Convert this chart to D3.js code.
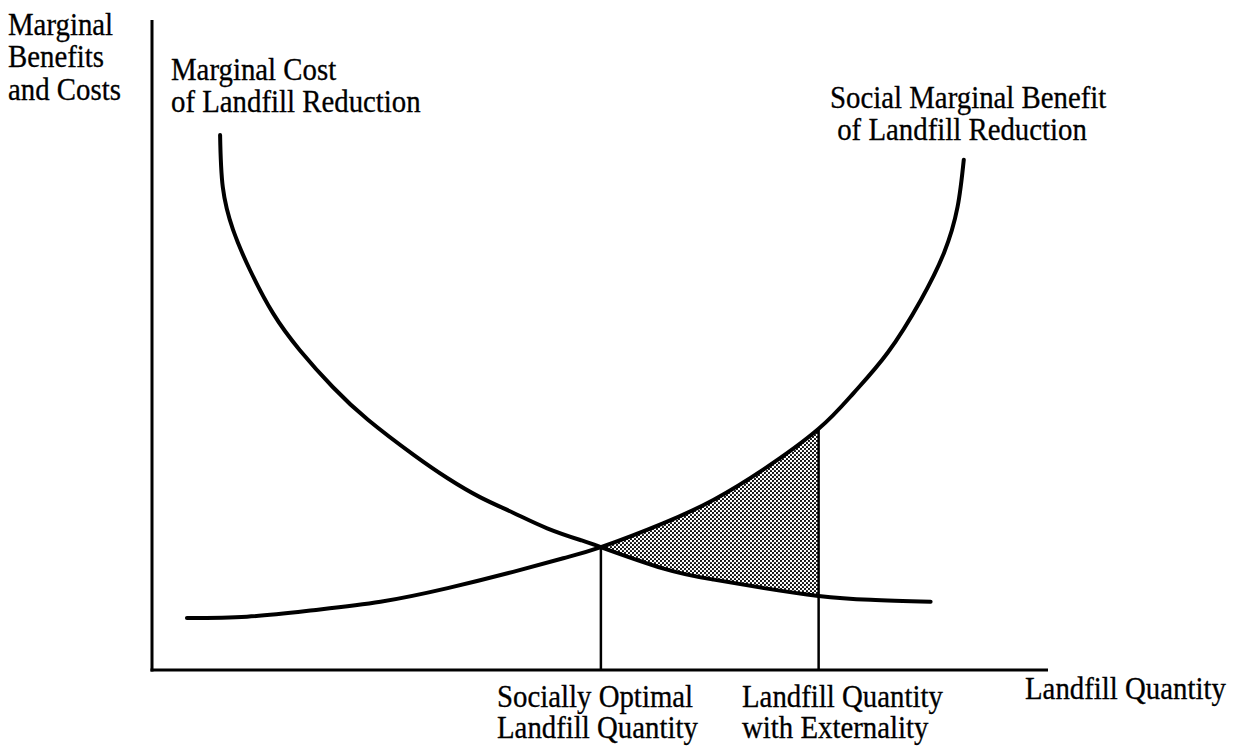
<!DOCTYPE html>
<html lang="en">
<head>
    <meta charset="UTF-8">
    <title>Landfill Externality</title>
    <script src="https://d3js.org/d3.v7.min.js"></script>
    <style>
        body {
            margin: 0;
            background: #fff;
        }
        svg text {
            font-family: 'Liberation Serif', 'Times New Roman', serif;
            font-size: 31px;
            fill: #000;
            stroke: #000;
            stroke-width: 0.3px;
        }
    </style>
</head>
<body>
    <div id="chart"></div>

    <script>
        // values (quantity 0-100, benefit/cost 0-100)
        const mcQty  = [7.6, 7.9, 9.05, 10.95, 13.5, 16.5, 20.2, 24.1, 29.2, 33.0, 36.6, 40.3, 44.1, 47.8, 50.1, 57.1, 62.7, 68.3, 74.4, 80.2, 86.9];
        const mcVal  = [82.3, 74.3, 67.7, 61.5, 54.9, 49.2, 43.5, 38.5, 33.1, 29.5, 26.6, 24.2, 21.8, 20.0, 18.9, 15.6, 13.9, 12.6, 11.4, 10.8, 10.5];
        const smbQty = [3.9, 10.6, 18.0, 25.5, 33.0, 40.3, 45.9, 50.1, 57.1, 62.7, 68.3, 74.4, 78.3, 82.1, 85.8, 88.4, 89.9, 90.6];
        const smbVal = [8.0, 8.2, 9.2, 10.5, 12.6, 15.1, 17.2, 18.9, 22.6, 26.2, 30.9, 37.1, 42.6, 48.8, 56.9, 64.2, 71.2, 78.5];

        const optimalQty = 50.1, optimalVal = 18.9;
        const externQty = 74.4, externVal = 37.1;

        const width = 1244, height = 747;

        const x = d3.scaleLinear().domain([0, 100]).range([152, 1048]);
        const y = d3.scaleLinear().domain([0, 100]).range([670, 20]);

        const mc = mcQty.map((q, i) => ({q: q, v: mcVal[i]}));
        const smb = smbQty.map((q, i) => ({q: q, v: smbVal[i]}));

        const svg = d3.select("#chart").append("svg")
            .attr("width", width)
            .attr("height", height);

        const defs = svg.append("defs");

        // fine stipple for the deadweight area
        const pat = defs.append("pattern")
            .attr("id", "dots")
            .attr("width", 4).attr("height", 4)
            .attr("patternUnits", "userSpaceOnUse");
        pat.append("rect").attr("width", 4).attr("height", 4).attr("fill", "#fff");
        pat.append("circle").attr("cx", 1).attr("cy", 1).attr("r", 1.1).attr("fill", "#000");
        pat.append("circle").attr("cx", 3).attr("cy", 3).attr("r", 1.1).attr("fill", "#000");

        const curve = d3.curveNatural;

        defs.append("clipPath").attr("id", "leftOfExtern")
            .append("rect")
            .attr("x", 0).attr("y", 0)
            .attr("width", x(externQty)).attr("height", height);

        defs.append("clipPath").attr("id", "aboveMC")
            .append("path")
            .attr("d", d3.area().curve(curve)
                .x(d => x(d.q)).y0(0).y1(d => y(d.v))(mc));

        svg.append("g")
            .attr("clip-path", "url(#leftOfExtern)")
            .append("path")
            .attr("clip-path", "url(#aboveMC)")
            .attr("d", d3.area().curve(curve)
                .x(d => x(d.q)).y0(y(0)).y1(d => y(d.v))(smb))
            .attr("fill", "url(#dots)");

        // axes
        svg.append("line")
            .attr("x1", x(0)).attr("x2", x(0))
            .attr("y1", y(100)).attr("y2", y(0) + 1.5)
            .attr("stroke", "#000").attr("stroke-width", 3);
        svg.append("line")
            .attr("x1", x(0) - 1.5).attr("x2", x(100))
            .attr("y1", y(0)).attr("y2", y(0))
            .attr("stroke", "#000").attr("stroke-width", 3);

        // drop lines
        svg.append("line")
            .attr("x1", x(optimalQty)).attr("x2", x(optimalQty))
            .attr("y1", y(optimalVal)).attr("y2", y(0))
            .attr("stroke", "#000").attr("stroke-width", 2.5);
        svg.append("line")
            .attr("x1", x(externQty)).attr("x2", x(externQty))
            .attr("y1", y(externVal)).attr("y2", y(0))
            .attr("stroke", "#000").attr("stroke-width", 2.5);

        const line = d3.line().curve(curve).x(d => x(d.q)).y(d => y(d.v));

        svg.append("path").attr("d", line(mc))
            .attr("fill", "none").attr("stroke", "#000")
            .attr("stroke-width", 4).attr("stroke-linecap", "round");
        svg.append("path").attr("d", line(smb))
            .attr("fill", "none").attr("stroke", "#000")
            .attr("stroke-width", 4).attr("stroke-linecap", "round");

        // labels
        const labels = [
            {x: 8,    y: 35,  gap: 32.5, lines: ["Marginal", "Benefits", "and Costs"]},
            {x: 171,  y: 80,  gap: 32.5, lines: ["Marginal Cost", "of Landfill Reduction"]},
            {x: 830,  y: 108, gap: 32.5, lines: ["Social Marginal Benefit", " of Landfill Reduction"]},
            {x: 497,  y: 707, gap: 31,   lines: ["Socially Optimal", "Landfill Quantity"]},
            {x: 742,  y: 707, gap: 31,   lines: ["Landfill Quantity", "with Externality"]},
            {x: 1025, y: 699, gap: 31,   lines: ["Landfill Quantity"]}
        ];

        labels.forEach(l => {
            const t = svg.append("text")
                .attr("transform", `translate(${l.x},${l.y}) scale(0.93,1)`)
                .attr("xml:space", "preserve");
            l.lines.forEach((s, i) => {
                t.append("tspan").attr("x", 0).attr("y", i * l.gap).text(s);
            });
        });
    </script>
</body>
</html>
